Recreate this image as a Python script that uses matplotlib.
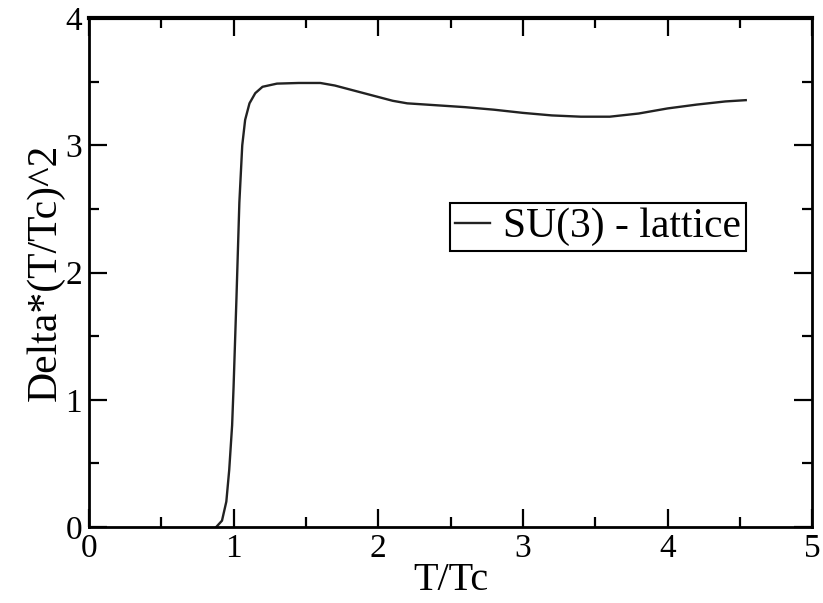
import matplotlib
matplotlib.use('Agg')
import matplotlib.pyplot as plt
from matplotlib.ticker import MultipleLocator

# curve
t_over_tc = [0.88, 0.92, 0.95, 0.97, 0.99, 1.00, 1.02, 1.04, 1.06, 1.08, 1.11, 1.15,
             1.20, 1.30, 1.45, 1.60, 1.70, 1.80, 1.90, 2.00, 2.10, 2.20, 2.40, 2.60,
             2.80, 3.00, 3.20, 3.40, 3.60, 3.80, 4.00, 4.20, 4.40, 4.54]
delta_scaled = [0.0, 0.05, 0.2, 0.45, 0.8, 1.1, 1.8, 2.55, 3.0, 3.2, 3.33, 3.41,
                3.46, 3.485, 3.49, 3.49, 3.47, 3.44, 3.41, 3.38, 3.35, 3.33, 3.315, 3.30,
                3.28, 3.255, 3.235, 3.225, 3.225, 3.25, 3.29, 3.32, 3.345, 3.355]
series_label = 'SU(3) - lattice'

plt.rcParams['font.family'] = ['Liberation Serif', 'DejaVu Serif']

fig = plt.figure(figsize=(8.23, 6.03), dpi=100)
ax = fig.add_axes([0.108, 0.126, 0.879, 0.844])

ax.plot(t_over_tc, delta_scaled, color='#222222', lw=1.7, label=series_label)

ax.set_xlim(0, 5)
ax.set_ylim(0, 4)
ax.xaxis.set_major_locator(MultipleLocator(1))
ax.xaxis.set_minor_locator(MultipleLocator(0.5))
ax.yaxis.set_major_locator(MultipleLocator(1))
ax.yaxis.set_minor_locator(MultipleLocator(0.5))
ax.tick_params(which='both', direction='in', top=True, right=True, width=1.6,
               labelsize=24, pad=5)
ax.tick_params(which='major', length=13)
ax.tick_params(which='minor', length=7)
for s in ax.spines.values():
    s.set_linewidth(2)
ax.spines['top'].set_linewidth(3)

ax.set_xlabel('T/Tc', fontsize=29, labelpad=-2)
ax.set_ylabel('Delta*(T/Tc)^2', fontsize=30, labelpad=0)

leg = ax.legend(loc='upper left', bbox_to_anchor=(0.499, 0.637), borderaxespad=0,
                fontsize=30, handlelength=0.85, handletextpad=0.3, borderpad=0.12,
                fancybox=False, framealpha=1, edgecolor='black')
leg.get_frame().set_linewidth(1.5)

plt.savefig('out.png', dpi=100)
